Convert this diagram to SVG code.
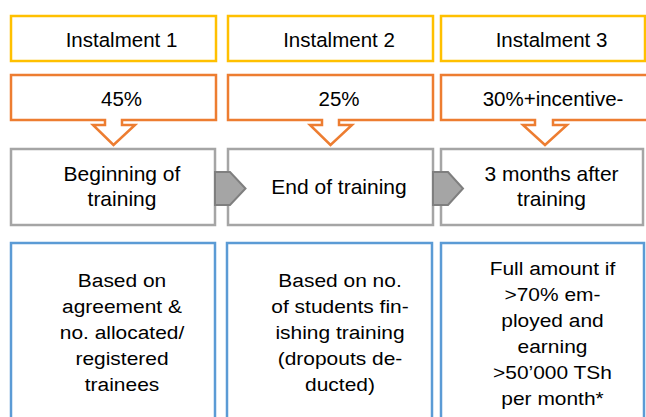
<svg xmlns="http://www.w3.org/2000/svg" width="646" height="417" viewBox="0 0 646 417">
<style>
text{font-family:"Liberation Sans",Arial,sans-serif;fill:#000;text-anchor:middle}
.t{font-size:20.5px}
.m{font-size:21px}
.b{font-size:18.7px}
.y{fill:#fff;stroke:#FFC000;stroke-width:2.5}
.o{fill:#fff;stroke:#ED7D31;stroke-width:2.5;stroke-linejoin:miter}
.g{fill:#fff;stroke:#A5A5A5;stroke-width:2.5}
.bl{fill:#fff;stroke:#5B9BD5;stroke-width:2.5}
.ar{fill:#A5A5A5;stroke:#7F7F7F;stroke-width:2}
</style>
<rect width="646" height="417" fill="#fff"/>
<g id="inst1"><rect class="y" x="11" y="16" width="205" height="45"/><text class="t" x="121.5" y="47">Instalment 1</text></g>
<g id="inst2"><rect class="y" x="228" y="16" width="205" height="45"/><text class="t" x="339" y="47">Instalment 2</text></g>
<g id="inst3"><rect class="y" x="441" y="16" width="204" height="45"/><text class="t" x="551.5" y="47">Instalment 3</text></g>
<g id="pct1"><path class="o" d="M11,75 H216 V120 H122 V125 H135 L113.5,145 L93,125 H105 V120 H11 Z"/><text class="t" x="121.5" y="106">45%</text></g>
<g id="pct2"><path class="o" d="M228,75 H433 V120 H339 V125 H352 L330.5,145 L310,125 H322 V120 H228 Z"/><text class="t" x="339" y="106">25%</text></g>
<g id="pct3"><path class="o" d="M441,75 H652 V120 H553 V125 H567 L545,145 L523,125 H535 V120 H441 Z"/><text class="t" x="553" y="106">30%+incentive-</text></g>
<g id="when1"><rect class="g" x="11" y="149" width="204" height="76"/><text class="m" x="122" y="181">Beginning of</text><text class="m" x="122" y="206">training</text></g>
<g id="when2"><rect class="g" x="228" y="149" width="205" height="76"/><text class="m" x="339" y="194">End of training</text></g>
<g id="when3"><rect class="g" x="441" y="149" width="202" height="76"/><text class="m" x="551.5" y="181">3 months after</text><text class="m" x="551.5" y="206">training</text></g>
<g id="connectors">
<path class="ar" d="M215,172 H230 L245.5,188.5 L230,205 H215 Z"/>
<path class="ar" d="M433,172 H448 L463,188.5 L448,205 H433 Z"/>
</g>
<g id="basis1"><rect class="bl" x="11" y="243" width="204" height="190"/>
<g transform="translate(122 0) scale(1.12 1)"><text class="b" x="0" y="287">Based on</text><text class="b" x="0" y="313">agreement &amp;</text><text class="b" x="0" y="339">no. allocated/</text><text class="b" x="0" y="365">registered</text><text class="b" x="0" y="391">trainees</text></g></g>
<g id="basis2"><rect class="bl" x="227" y="243" width="205" height="190"/>
<g transform="translate(340 0) scale(1.12 1)"><text class="b" x="0" y="287">Based on no.</text><text class="b" x="0" y="313">of students fin-</text><text class="b" x="0" y="339">ishing training</text><text class="b" x="0" y="365">(dropouts de-</text><text class="b" x="0" y="391">ducted)</text></g></g>
<g id="basis3"><rect class="bl" x="441" y="243" width="203" height="190"/>
<g transform="translate(552.5 0) scale(1.12 1)"><text class="b" x="0" y="275">Full amount if</text><text class="b" x="0" y="301">&gt;70% em-</text><text class="b" x="0" y="327">ployed and</text><text class="b" x="0" y="353">earning</text><text class="b" x="0" y="379">&gt;50’000 TSh</text><text class="b" x="0" y="405">per month*</text></g></g>
</svg>
